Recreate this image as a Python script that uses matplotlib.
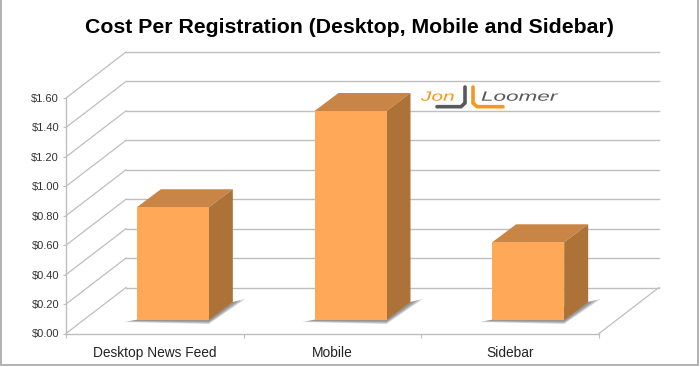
import matplotlib
matplotlib.use("Agg")
import matplotlib.pyplot as plt
from matplotlib.patches import Polygon, Rectangle
from matplotlib.patheffects import AbstractPathEffect
from matplotlib.transforms import Affine2D

categories = ["Desktop News Feed", "Mobile", "Sidebar"]
cost = [0.766, 1.42, 0.528]
y_ticks = [0.0, 0.2, 0.4, 0.6, 0.8, 1.0, 1.2, 1.4, 1.6]

# Colores
hex_front = '#FFA858'
hex_top = '#C88545'
hex_side = '#AC7238'
hex_grid = '#BEBEBE'
hex_logo_orange = '#F7971D'
hex_logo_grey = '#58595B'

plt.rcParams['font.family'] = ['Liberation Sans', 'DejaVu Sans']

W, H = 700, 367
fig = plt.figure(figsize=(W / 100, H / 100), dpi=100)
fig.patch.set_facecolor('white')

# el eje ocupa el plano frontal del grafico 3D (en pixeles de la imagen)
left, right, bottom, top = 66, 599, 333.5, 98
ax = fig.add_axes([left / W, 1 - bottom / H, (right - left) / W, (bottom - top) / H])
ax.set_xlim(0, 3)
ax.set_ylim(0, 1.6)
ax.patch.set_alpha(0)

# profundidad del piso y de las barras, en unidades de datos
units_x = (right - left) / 3
units_y = (bottom - top) / 1.6
depth_x = 60 / units_x
depth_y = 46 / units_y
bar_w = 72 / units_x
bar_dx, bar_dy = 18 / units_x, 13.5 / units_y
bar_depth_x, bar_depth_y = 24 / units_x, 18 / units_y


def poly(points, **kw):
    ax.add_patch(Polygon(points, closed=True, clip_on=False, **kw))


# rejilla: pared trasera y lineas laterales
for v in y_ticks:
    ax.plot([0, depth_x], [v, v + depth_y], color=hex_grid, lw=0.9, clip_on=False, zorder=1)
    ax.plot([depth_x, 3 + depth_x], [v + depth_y, v + depth_y], color=hex_grid, lw=1.0,
            clip_on=False, zorder=1)
ax.plot([3, 3 + depth_x], [0, depth_y], color=hex_grid, lw=0.9, clip_on=False, zorder=1)

# barras
for i, val in enumerate(cost):
    x0 = i + 0.5 - bar_w / 2 + bar_dx
    x1 = x0 + bar_w
    y0 = bar_dy
    y1 = y0 + val
    dx, dy = bar_depth_x, bar_depth_y
    # sombra del piso, en capas para que se difumine
    for spread, alpha in [(13, 0.18), (11, 0.25), (8, 0.3), (5, 0.35)]:
        sx = spread / units_x
        sy = spread / 3.2 / units_y
        poly([(x0 - sx, y0 - sy * 0.5), (x1, y0 - sy), (x1 + dx + sx, y0 + dy + sy * 0.8),
              (x1 + dx, y0 + dy)],
             facecolor='#6E6E6E', edgecolor='none', alpha=alpha, zorder=2)
    poly([(x0, y1), (x1, y1), (x1 + dx, y1 + dy), (x0 + dx, y1 + dy)],
         facecolor=hex_top, edgecolor='none', zorder=3)
    poly([(x1, y0), (x1 + dx, y0 + dy), (x1 + dx, y1 + dy), (x1, y1)],
         facecolor=hex_side, edgecolor='none', zorder=3)
    ax.bar(x0, val, width=bar_w, bottom=y0, align='edge', color=hex_front, zorder=4,
           clip_on=False)

# ejes
for s in ['top', 'right']:
    ax.spines[s].set_visible(False)
for s in ['left', 'bottom']:
    ax.spines[s].set_color(hex_grid)
    ax.spines[s].set_linewidth(1.0)
ax.set_yticks(y_ticks)
ax.set_yticklabels(['${:.2f}'.format(v) for v in y_ticks], fontsize=8, color='#333333')
ax.tick_params(axis='y', length=2, width=0.8, color=hex_grid, pad=3)
ax.set_xticks([0, 1, 2, 3])
ax.set_xticklabels([])
ax.tick_params(axis='x', length=3, width=0.8, color=hex_grid)
ax.set_xticks([0.5, 1.5, 2.5], minor=True)
ax.set_xticklabels(categories, minor=True, fontsize=9.9, color='#222222')
ax.tick_params(axis='x', which='minor', length=0, pad=9)


class Stretch(AbstractPathEffect):
    # ensancha el texto en horizontal, para las letras anchas del logo
    def __init__(self, sx):
        super().__init__()
        self.sx = sx

    def draw_path(self, renderer, gc, tpath, affine, rgbFace=None):
        renderer.draw_path(gc, tpath.transformed(Affine2D().scale(self.sx, 1)), affine, rgbFace)


# capa en pixeles para titulo, marco y logo
over = fig.add_axes([0, 0, 1, 1], facecolor='none')
over.set_xlim(0, W)
over.set_ylim(H, 0)
over.axis('off')
over.add_patch(Rectangle((1, -3), 697, 368, fill=False, edgecolor='#ABABAB', lw=1.3))
over.text(349.5, 33, "Cost Per Registration (Desktop, Mobile and Sidebar)", fontsize=15.35,
          fontweight='bold', color='black', ha='center', va='baseline')

# logo
over.text(421, 100.7, "Jon", fontsize=9.7, style='italic', color=hex_logo_orange, ha='left',
          va='baseline', path_effects=[Stretch(1.55)])
over.text(481, 100.7, "Loomer", fontsize=9.7, style='italic', color=hex_logo_grey, ha='left',
          va='baseline', path_effects=[Stretch(1.67)])
over.plot([465, 465, 461, 437], [87, 103, 106.7, 106.7], color=hex_logo_grey, lw=2.6,
          solid_capstyle='round')
over.plot([473, 473, 477, 503], [87, 103, 106.7, 106.7], color=hex_logo_orange, lw=2.6,
          solid_capstyle='round')

plt.savefig("out.png", dpi=100)
